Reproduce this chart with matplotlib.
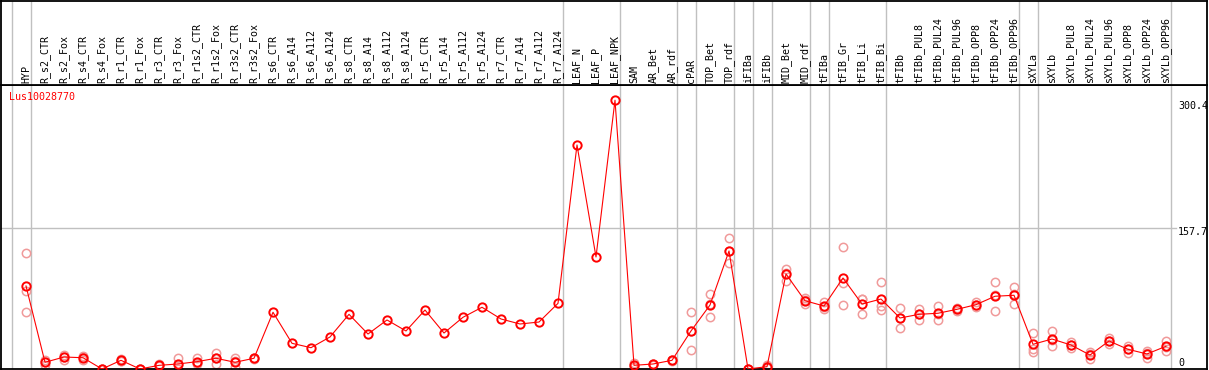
import matplotlib
matplotlib.use("Agg")
import matplotlib.pyplot as plt

# ---- data ----
samples = ["HYP",
           "R_s2_CTR", "R_s2_Fox", "R_s4_CTR", "R_s4_Fox", "R_r1_CTR", "R_r1_Fox",
           "R_r3_CTR", "R_r3_Fox", "R_r1s2_CTR", "R_r1s2_Fox", "R_r3s2_CTR", "R_r3s2_Fox",
           "R_s6_CTR", "R_s6_A14", "R_s6_A112", "R_s6_A124",
           "R_s8_CTR", "R_s8_A14", "R_s8_A112", "R_s8_A124",
           "R_r5_CTR", "R_r5_A14", "R_r5_A112", "R_r5_A124",
           "R_r7_CTR", "R_r7_A14", "R_r7_A112", "R_r7_A124",
           "LEAF_N", "LEAF_P", "LEAF_NPK",
           "SAM", "AR_Bet", "AR_rdf", "cPAR", "TOP_Bet", "TOP_rdf",
           "iFIBa", "iFIBb", "MID_Bet", "MID_rdf", "tFIBa",
           "tFIB_Gr", "tFIB_Li", "tFIB_Bi",
           "tFIBb", "tFIBb_PUL8", "tFIBb_PUL24", "tFIBb_PUL96",
           "tFIBb_OPP8", "tFIBb_OPP24", "tFIBb_OPP96",
           "sXYLa", "sXYLb", "sXYLb_PUL8", "sXYLb_PUL24", "sXYLb_PUL96",
           "sXYLb_OPP8", "sXYLb_OPP24", "sXYLb_OPP96"]

# column counts of each sample group (gray separators)
group_sizes = [1, 28, 3, 3, 1, 2, 1, 1, 2, 1, 3, 7, 1, 7]

means = [92.8,
         7.5, 13.4, 12.6, 0.0, 9.7, 0.0, 4.1, 5.6, 8.2, 12.0, 7.5, 12.0,
         63.4, 28.7, 23.8, 35.8, 61.1, 39.1, 54.8, 42.5,
         65.9, 40.2, 57.8, 69.0, 55.9, 50.3, 52.5, 73.4,
         250.4, 125.2, 300.4,
         4.1, 5.6, 9.7, 42.5, 71.5, 131.9,
         0.0, 2.6, 106.2, 76.3, 70.4,
         101.7, 72.6, 78.2,
         57.0, 61.1, 62.3, 66.7, 71.9, 81.3, 82.4,
         27.6, 33.5, 26.8, 15.6, 31.3, 22.0, 16.8, 25.4]

replicates = [[129.3, 87.2, 63.4],
              [10.0, 7.8, 4.5], [15.6, 13.4, 10.1], [14.5, 10.0, 13.4], [0.0, 0.0, 0.0],
              [11.0, 9.0, 9.0], [0.0, 0.0, 0.0], [5.5, 3.0, 4.0], [12.6, 4.2, 0.0],
              [12.6, 5.6, 6.4], [17.9, 5.6, 12.5], [12.0, 1.9, 8.6], [12.5, 11.5, 12.0],
              [], [], [], [], [], [], [], [], [], [], [], [], [], [], [], [],
              [], [], [],
              [6.4, 3.3, 2.6], [6.0, 5.0, 6.0], [10.0, 9.0, 10.0],
              [63.7, 21.2, 42.6], [84.2, 57.8, 72.5], [146.1, 118.1, 131.5],
              [0.0, 0.0, 0.0], [4.0, 1.0, 3.0],
              [112.1, 98.7, 107.8], [79.4, 72.7, 76.8], [74.9, 67.1, 69.2],
              [136.4, 95.8, 71.5], [78.2, 61.5, 78.1], [97.2, 70.8, 65.9],
              [68.5, 45.5, 57.0], [67.1, 55.1, 61.1], [70.4, 54.8, 61.7], [68.0, 65.0, 67.0],
              [74.5, 69.5, 71.7], [97.2, 64.5, 82.2], [91.3, 72.3, 83.6],
              [39.9, 22.7, 19.3], [42.8, 25.7, 32.0], [30.0, 23.5, 27.0], [19.0, 11.0, 17.0],
              [35.0, 27.5, 31.5], [25.7, 18.4, 22.0], [20.0, 12.0, 18.0], [31.0, 20.5, 24.7]]

gene = "Lus10028770"
ymax_label = 300.4
ymid_label = 157.7

# ---- figure ----
W, H = 1209, 370
fig = plt.figure(figsize=(W / 100, H / 100), dpi=100)
font = dict(family="DejaVu Sans Mono", fontsize=7.2)
gray = "#c0c0c0"
red = "#ff0000"
pink = "#f09a9a"

x = list(range(len(samples)))
xlim = (-25 / 19, 1181 / 19)

ax = fig.add_axes([1 / W, 1 / H, 1206 / W, 284 / H])
hax = fig.add_axes([1 / W, 285 / H, 1206 / W, 84 / H])
for a in (ax, hax):
    a.set_xlim(*xlim)
    a.set_xticks([])
    a.set_yticks([])
    for s in a.spines.values():
        s.set_linewidth(1.3)
        s.set_color("black")
ax.set_ylim(0, 317.4)
hax.set_ylim(0, 84)

# group separators
bounds = [-1]
c = -1
for g in group_sizes:
    c += g
    bounds.append(c)
for b in bounds:
    for a in (ax, hax):
        a.axvline(b + 0.24, color=gray, lw=1, zorder=0)

ax.axhline(ymid_label, xmax=(1176 - 1) / 1206, color=gray, lw=1, zorder=0)

# replicates
for i, reps in enumerate(replicates):
    if reps:
        ax.plot([i] * len(reps), reps, "o", ms=6, mfc="none", mec=pink, mew=1.1, zorder=2)

# mean line
ax.plot(x, means, "-", color=red, lw=0.8, zorder=3)
ax.plot(x, means, "o", ms=6, mfc="none", mec=red, mew=1.4, zorder=4)

# header labels
for i, s in enumerate(samples):
    hax.text(i, 2, s, rotation=90, ha="center", va="bottom", **font)

ax.text(9.5 / W, (370 - 97) / H, gene, color=red, ha="left", va="center",
        transform=fig.transFigure, **font)

fig.text(1178 / W, (370 - 101) / H, f"{ymax_label}", ha="left", va="top", **font)
fig.text(1178 / W, (370 - 227) / H, f"{ymid_label}", ha="left", va="top", **font)
fig.text(1178 / W, (370 - 363) / H, "0", ha="left", va="center", **font)

fig.savefig("out.png", dpi=100)
